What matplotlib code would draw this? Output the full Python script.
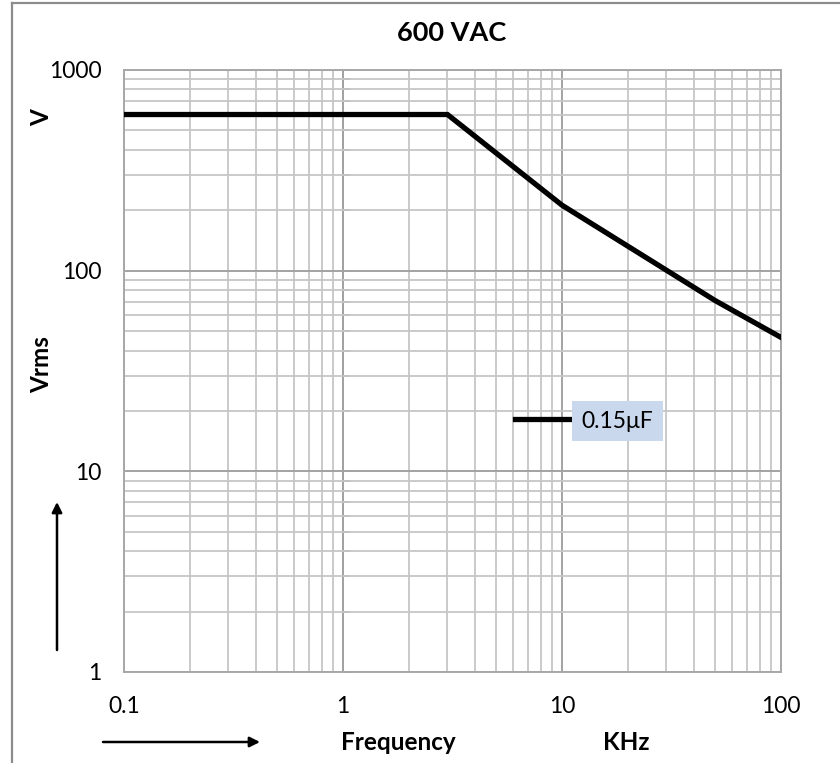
import matplotlib
matplotlib.use("Agg")
import matplotlib.pyplot as plt
from matplotlib.ticker import LogLocator, NullFormatter, FixedLocator, FixedFormatter
from matplotlib.lines import Line2D

# ---- data ----
freq_khz = [0.1, 3, 10, 50, 100]
vrms = [600, 600, 212, 71, 46.5]
series_label = "0.15\u03bcF"
x_ticks = [0.1, 1, 10, 100]
x_tick_labels = ["0.1", "1", "10", "100"]
y_ticks = [1, 10, 100, 1000]
y_tick_labels = ["1", "10", "100", "1000"]
title = "600 VAC"

plt.rcParams['font.family'] = ['Lato', 'DejaVu Sans']

W, H = 840, 763
fig = plt.figure(figsize=(W / 100, H / 100), dpi=100)
ax = fig.add_axes([124 / W, 1 - 672 / H, (781 - 124) / W, (672 - 70) / H])

ax.plot(freq_khz, vrms, color='black', lw=3.8, solid_joinstyle='miter', zorder=5,
        label=series_label)
ax.set_xscale('log')
ax.set_yscale('log')
ax.set_xlim(0.1, 100)
ax.set_ylim(1, 1000)

ax.xaxis.set_major_locator(FixedLocator(x_ticks))
ax.xaxis.set_major_formatter(FixedFormatter(x_tick_labels))
ax.yaxis.set_major_locator(FixedLocator(y_ticks))
ax.yaxis.set_major_formatter(FixedFormatter(y_tick_labels))
for axis in (ax.xaxis, ax.yaxis):
    axis.set_minor_locator(LogLocator(base=10, subs=range(2, 10), numticks=20))
    axis.set_minor_formatter(NullFormatter())

ax.grid(which='minor', color='#c6c6c6', lw=1.3)
ax.grid(which='major', color='#a3a3a3', lw=1.4)
ax.set_axisbelow(True)
ax.tick_params(which='both', length=0)
ax.tick_params(axis='x', pad=17, labelsize=16.5)
ax.tick_params(axis='y', pad=16, labelsize=16.5)
for s in ax.spines.values():
    s.set_color('#a8a8a8')
    s.set_linewidth(1.4)

# secondary axis line with small ticks at x = 1
sec = ax.secondary_yaxis(1 / 3)
sec.spines['left'].set_color('#9a9a9a')
sec.spines['left'].set_linewidth(1.4)
sec.tick_params(which='both', direction='in', length=5, color='#9a9a9a', width=1.3,
                labelleft=False)
sec.yaxis.set_major_locator(FixedLocator(y_ticks))
sec.yaxis.set_minor_locator(LogLocator(base=10, subs=range(2, 10), numticks=20))
sec.yaxis.set_minor_formatter(NullFormatter())

# legend
leg = ax.legend(loc='center left', bbox_to_anchor=(515 / W, 1 - 421 / H),
                bbox_transform=fig.transFigure, frameon=False, borderpad=0,
                borderaxespad=0, handlelength=2.4, handletextpad=0.5, fontsize=16.5)
leg.get_lines()[0].set_linewidth(3.8)
t = leg.get_texts()[0]
t.set_bbox(dict(boxstyle='square,pad=0.42', facecolor='#c9d8ec', edgecolor='none'))

# titles and labels
fig.text(452 / W, 1 - 33 / H, title, ha='center', va='center', fontsize=19.5,
         fontweight='bold')
fig.text(398 / W, 1 - 742 / H, "Frequency", ha='center', va='center', fontsize=17.5,
         fontweight='bold')
fig.text(626 / W, 1 - 742 / H, "KHz", ha='center', va='center', fontsize=17.5,
         fontweight='bold')
fig.text(42 / W, 1 - 118 / H, "V", ha='center', va='center', fontsize=17.5,
         fontweight='bold', rotation=90)
fig.text(42 / W, 1 - 365 / H, "Vrms", ha='center', va='center', fontsize=17.5,
         fontweight='bold', rotation=90)

# arrows
fig.patches.append(matplotlib.patches.FancyArrowPatch(
    (103 / W, 1 - 742 / H), (260 / W, 1 - 742 / H), transform=fig.transFigure,
    arrowstyle='-|>,head_length=6,head_width=3', color='black', lw=1.8,
    shrinkA=0, shrinkB=0))
fig.patches.append(matplotlib.patches.FancyArrowPatch(
    (57 / W, 1 - 650 / H), (57 / W, 1 - 502 / H), transform=fig.transFigure,
    arrowstyle='-|>,head_length=6,head_width=3', color='black', lw=1.8,
    shrinkA=0, shrinkB=0))

# page border (top and left)
fig.add_artist(Line2D([12 / W, 12 / W], [0, 1 - 3 / H], transform=fig.transFigure,
                      color='#8c8c8c', lw=1.6))
fig.add_artist(Line2D([12 / W, 1], [1 - 3 / H, 1 - 3 / H], transform=fig.transFigure,
                      color='#8c8c8c', lw=1.6))

fig.savefig("out.png", dpi=100)
